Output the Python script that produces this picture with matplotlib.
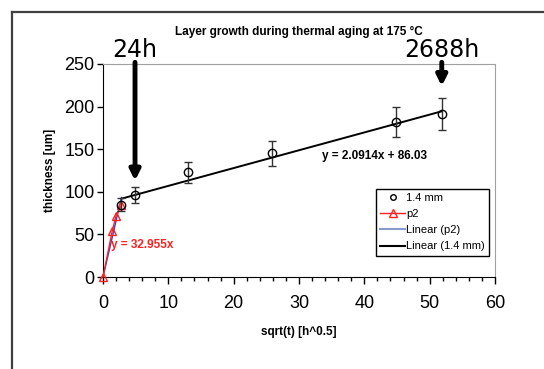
import matplotlib
matplotlib.use("Agg")
import matplotlib.pyplot as plt
from matplotlib.lines import Line2D
from matplotlib.ticker import MultipleLocator
import numpy as np

plt.rcParams['font.family'] = ['Liberation Sans', 'DejaVu Sans']

# Data
x_14 = [2.83, 4.90, 12.96, 25.92, 44.90, 51.85]
y_14 = [85, 96, 123, 145, 182, 191]
err_14 = [8, 9.5, 12.5, 14.5, 18, 19]

x_p2 = [0, 1.41, 2.0, 2.83]
y_p2 = [0, 54, 72, 84]

slope_p2 = 32.955
slope_14, icpt_14 = 2.0914, 86.03

arrow_x = [4.9, 51.85]
arrow_labels = ["24h", "2688h"]
arrow_tips = [113, 224]

W, H = 544, 369
fig = plt.figure(figsize=(W/100, H/100), dpi=100)
ax = fig.add_axes([103/W, 1-277/H, (495-103)/W, (277-64)/H])

# frame lines of figure
fig.add_artist(Line2D([12/W, 1], [1-12/H, 1-12/H], color='#404040', lw=1.6, transform=fig.transFigure))
fig.add_artist(Line2D([12/W, 12/W], [1-12/H, 0], color='#404040', lw=1.6, transform=fig.transFigure))

# fits
xf = np.array([0, x_p2[-1]])
ax.plot(xf, slope_p2*xf, color='#3344cc', lw=1.0, zorder=3)
ax.plot(x_p2, y_p2, color='#ff2020', lw=1.0, marker='^', mfc='none', mec='#ff2020', ms=6, zorder=4, clip_on=False)
xl = np.array([x_14[0], x_14[-1]])
ax.plot(xl, slope_14*xl + icpt_14, color='black', lw=1.4, zorder=3)
ax.errorbar(x_14, y_14, yerr=err_14, fmt='o', mfc='none', mec='black', ms=6, ecolor='#333333',
            elinewidth=1.0, capsize=3, capthick=1.0, zorder=5)

ax.set_xlim(0, 60)
ax.set_ylim(0, 250)
ax.xaxis.set_major_locator(MultipleLocator(10))
ax.xaxis.set_minor_locator(MultipleLocator(2))
ax.yaxis.set_major_locator(MultipleLocator(50))
ax.tick_params(axis='x', which='major', direction='out', length=5, width=1, labelsize=13, pad=8)
ax.tick_params(axis='x', which='minor', direction='out', length=3, width=1)
ax.tick_params(axis='y', which='major', direction='out', length=4, width=1, labelsize=13, pad=2)
for s in ['top', 'right']:
    ax.spines[s].set_color('#a0a0a0')
for s in ['left', 'bottom']:
    ax.spines[s].set_color('black')

ax.set_xlabel('sqrt(t) [h^0.5]', fontsize=8.5, fontweight='bold', labelpad=10)
ax.set_ylabel('thickness [um]', fontsize=8.5, fontweight='bold', labelpad=6)
ax.set_title('Layer growth during thermal aging at 175 °C', fontsize=8.5, fontweight='bold', pad=21)

# arrows and labels
for xa, lab, tip in zip(arrow_x, arrow_labels, arrow_tips):
    ax.annotate('', xy=(xa, tip), xytext=(xa, 252), xycoords='data', textcoords='data',
                arrowprops=dict(arrowstyle='-|>,head_width=0.3,head_length=0.6', lw=3.5, color='black', shrinkA=0, shrinkB=0),
                annotation_clip=False)
    ax.text(xa, 252, lab, ha='center', va='bottom', fontsize=17, family='DejaVu Sans')

ax.text(33.5, 138, 'y = 2.0914x + 86.03', fontsize=8.5, fontweight='bold', color='black')
ax.text(1.3, 34, 'y = 32.955x', fontsize=8.5, fontweight='bold', color='#ff2020')

handles = [
    Line2D([], [], ls='none', marker='o', mfc='none', mec='black', ms=4),
    Line2D([], [], color='#ff2020', lw=1, marker='^', mfc='none', mec='#ff2020', ms=6),
    Line2D([], [], color='#8899cc', lw=1.5),
    Line2D([], [], color='black', lw=1.5),
]
labels = ['1.4 mm', 'p2', 'Linear (p2)', 'Linear (1.4 mm)']
leg = ax.legend(handles, labels, loc='lower right', bbox_to_anchor=(0.985, 0.099), fontsize=8,
                frameon=True, fancybox=False, edgecolor='black', framealpha=1,
                handlelength=2.2, handletextpad=0.1, borderpad=0.4, labelspacing=0.55,
                borderaxespad=0)
leg.get_frame().set_linewidth(1.0)

fig.savefig('out.png', dpi=100)
